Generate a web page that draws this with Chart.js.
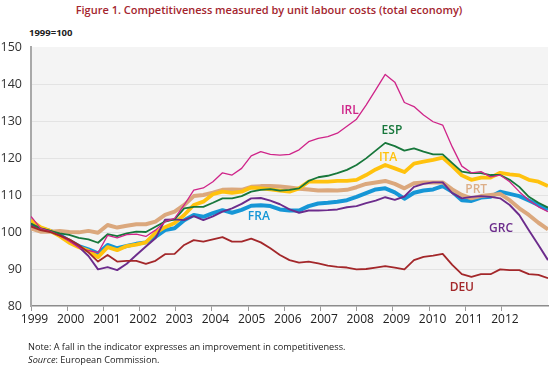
<!DOCTYPE html>
<html>
<head>
<meta charset="utf-8">
<script src="https://cdn.jsdelivr.net/npm/chart.js@4.4.1/dist/chart.umd.min.js"></script>
<style>
  html, body { margin: 0; padding: 0; background: #fff; }
  #wrap { position: relative; width: 550px; height: 377px; font-family: "Open Sans", sans-serif; overflow: hidden; }
  #chart { position: absolute; left: 0; top: 0; }
  .title { position: absolute; left: 0; width: 538px; top: 3px; text-align: center; font-size: 11px; font-weight: 600; color: #a4252e; line-height: 14px; }
  .unit { position: absolute; left: 29px; top: 27px; font-size: 9.5px; font-weight: 700; color: #222; line-height: 12px; }
  .note { position: absolute; left: 28px; top: 340px; font-size: 9.2px; color: #222; line-height: 13px; }
</style>
</head>
<body>
<div id="wrap">
  <div class="title">Figure 1. Competitiveness measured by unit labour costs (total economy)</div>
  <div class="unit">1999=100</div>
  <canvas id="chart" width="550" height="377"></canvas>
  <div class="note">Note: A fall in the indicator expresses an improvement in competitiveness.<br><i>Source</i>: European Commission.</div>
</div>
<script>
/* quarterly data, 1999Q1 .. 2012Q3 */
const quarters = [];
for (let y = 1999; y <= 2012; y++) for (let q = 1; q <= 4; q++) quarters.push(y + 'Q' + q);
quarters.length = 55;

const yearLabels = ['1999', '2000', '2001', '2002', '2003', '2004', '2005',
    '2006', '2007', '2008', '2009', '2010', '2011', '2012'];
const yTicks = [80, 90, 100, 110, 120, 130, 140, 150];

const deu = [101.5, 100.5, 100, 99, 98, 96.5, 94.5, 92, 93.8, 92, 92.2, 92.2, 91.4, 92.2, 94,
    94.1, 96.5, 97.8, 97.4, 98, 98.6, 97.4, 97.4, 98.2, 97.2, 95.6, 93.8, 92.4, 91.7, 92,
    91.5, 90.9, 90.6, 90.4, 89.9, 90, 90.4, 90.8, 90.4, 89.9, 92.4, 93.3, 93.6, 94.1, 91.1,
    88.6, 87.9, 88.6, 88.6, 89.9, 89.7, 89.7, 88.6, 88.4, 87.5];
const irl = [104.2, 101, 100.2, 99, 97.5, 95.8, 95, 94.4, 99.1, 98.4, 99.3, 99.4, 98.8, 100.5, 102.8,
    103.7, 107.3, 111.3, 111.9, 113.6, 116, 115.4, 117.2, 120.6, 121.7, 121, 120.8, 121, 122.2, 124.4,
    125.3, 125.8, 126.7, 128.6, 130.5, 134.3, 138.4, 142.6, 140.5, 135, 133.9, 131.6, 129.8, 128.9, 123,
    117.8, 116, 116.3, 114.9, 115.4, 113.6, 110.9, 108.6, 106.8, 105.5];
const esp = [102.3, 101, 100.3, 99.6, 99.2, 98.4, 98, 97.1, 99.4, 98.9, 99.6, 100.1, 100, 101.4, 102.8,
    103.4, 106.4, 106.8, 106.8, 107.9, 109.1, 109.1, 109.7, 110.9, 111.4, 111.6, 111.2, 111.4, 111.8, 113.8,
    114.8, 115.2, 115.9, 116.8, 118.1, 119.9, 122, 124.1, 123.2, 122, 122.6, 121.7, 121, 121, 118.6,
    116.3, 115.9, 115.9, 115.4, 115.4, 114.1, 112.2, 109.5, 107.9, 106.6];
const grc = [102, 101, 100.3, 99.3, 97.8, 96, 93.5, 89.9, 90.5, 89.7, 91.4, 93.8, 96.1, 98.3, 103.3,
    103.4, 103.2, 104.3, 103.2, 104.2, 105.5, 106.4, 107.6, 109.1, 109.2, 108.5, 107.5, 106.1, 105.2, 105.8,
    105.8, 105.9, 106.1, 106.7, 107, 107.8, 108.5, 109.4, 108.7, 109.6, 112.2, 113, 113.4, 113.4, 110.5,
    109.1, 109.5, 109.7, 109.5, 109.1, 107.3, 104.6, 100.5, 96.5, 92.4];
const ita = [103.2, 101.3, 100.3, 98.9, 97.1, 95.9, 94.9, 93.2, 95.9, 95.1, 96.2, 96.6, 97.2, 99.8, 101.3,
    102.4, 104.6, 107.3, 108.2, 110.2, 110.9, 110.6, 110.9, 112, 111.8, 111.5, 111.2, 110.9, 111.8, 113.6,
    113.6, 113.6, 113.8, 113.8, 114.1, 115.4, 116.9, 118.1, 117.2, 116.2, 118.5, 119, 119.5, 120.1, 117.8,
    115.3, 114.1, 114.7, 114.7, 116, 115.6, 115.3, 114.1, 113.6, 112.4];
const prt = [101, 100.1, 100.1, 100.3, 100, 99.9, 100.3, 99.8, 101.9, 101.2, 101.7, 102.1, 102.1, 102.8, 104.6,
    105.5, 107.3, 109.7, 110, 110.6, 111.4, 111.5, 111.4, 112.2, 112.4, 112.4, 112.3, 112, 111.7, 111.5,
    111.2, 111.3, 111.2, 111.4, 112.1, 113, 113.4, 113.8, 113, 111.8, 113.2, 113.4, 113.4, 113.4, 111.5,
    110, 109.1, 109.7, 110, 110.3, 108.6, 106.4, 104.6, 102.5, 100.7];
const fra = [102.3, 101, 100.3, 99.2, 97.6, 96.2, 95.3, 94.2, 96.5, 95.6, 96.2, 96.8, 97.2, 98.7, 100.5,
    101, 103.2, 104.6, 104.1, 105.1, 105.9, 105.2, 106, 107.1, 107.2, 107, 106.1, 105.8, 105.8, 107,
    107.7, 107.9, 108.2, 108.6, 109.5, 110.5, 111.5, 111.8, 110.7, 109, 110.6, 111.2, 111.5, 112.4, 110.9,
    108.6, 108.4, 109.3, 109.5, 110.9, 110.3, 109.7, 108.5, 107.3, 106];

// year marks in the original sit a little closer than 4 quarters apart
const YEAR_STEP = 3.78;

const FONT = '"Open Sans", sans-serif';

const series = [
    { name: 'DEU', data: deu, color: '#a3272a', width: 1.8, lx: 45, ly: 84.9 },
    { name: 'IRL', data: irl, color: '#cf2489', width: 1.3, lx: 33.3, ly: 132.7 },
    { name: 'ESP', data: esp, color: '#17773b', width: 1.8, lx: 37.7, ly: 127.3 },
    { name: 'GRC', data: grc, color: '#6c2c8c', width: 1.9, lx: 49.1, ly: 100.8 },
    { name: 'ITA', data: ita, color: '#ffc20e', width: 3.8, lx: 37.3, ly: 120 },
    { name: 'PRT', data: prt, color: '#dba87d', width: 4, lx: 46.5, ly: 111.6, text: '#dcae88' },
    { name: 'FRA', data: fra, color: '#1696d6', width: 4, lx: 23.8, ly: 104.3 },
];

const plotBg = {
    id: 'plotBg',
    beforeDraw(chart) {
        const { ctx, chartArea: a } = chart;
        ctx.save();
        ctx.fillStyle = '#f4f4f4';
        ctx.fillRect(a.left, a.top, a.right - a.left, a.bottom - a.top);
        ctx.restore();
    },
};

const seriesLabels = {
    id: 'seriesLabels',
    afterDatasetsDraw(chart) {
        const { ctx, scales: { x, y } } = chart;
        ctx.save();
        ctx.font = '600 12px ' + FONT;
        ctx.textAlign = 'center';
        ctx.textBaseline = 'middle';
        series.forEach(s => {
            ctx.fillStyle = s.text || s.color;
            ctx.fillText(s.name, x.getPixelForValue(s.lx), y.getPixelForValue(s.ly));
        });
        ctx.restore();
    },
};

new Chart(document.getElementById('chart'), {
    type: 'line',
    data: {
        datasets: series.map(s => ({
            label: s.name,
            data: s.data.map((v, i) => ({ x: i, y: v })),
            borderColor: s.color,
            borderWidth: s.width,
            pointRadius: 0,
            tension: 0,
            fill: false,
            borderJoinStyle: 'round',
        })),
    },
    options: {
        responsive: false,
        animation: false,
        layout: { padding: { top: 47, right: 2, bottom: 41, left: 0 } },
        plugins: { legend: { display: false }, tooltip: { enabled: false } },
        scales: {
            x: {
                type: 'linear',
                min: 0,
                max: quarters.length - 1,
                afterFit: s => { s.height = 30; },
                afterBuildTicks: s => { s.ticks = yearLabels.map((_, k) => ({ value: k * YEAR_STEP })); },
                grid: { drawOnChartArea: false, drawTicks: true, tickLength: 5, color: '#9a9a9a' },
                border: { display: true, color: '#8c8c8c', width: 1.5 },
                ticks: {
                    autoSkip: false, maxRotation: 0, labelOffset: 3.5, padding: 1,
                    color: '#222', font: { family: FONT, size: 12 },
                    callback: (v, i) => yearLabels[i],
                },
            },
            y: {
                min: 80,
                max: 150,
                afterFit: s => { s.width = 31; },
                afterBuildTicks: s => { s.ticks = yTicks.map(v => ({ value: v })); },
                grid: {
                    drawTicks: false,
                    color: c => (c.tick && c.tick.value > 80 && c.tick.value < 150) ? '#e3e3e3' : 'rgba(0,0,0,0)',
                },
                border: { display: true, color: '#a9a9a9', width: 2 },
                ticks: { padding: 9, color: '#333', font: { family: FONT, size: 12.5 } },
            },
        },
    },
    plugins: [plotBg, seriesLabels],
});
</script>
</body>
</html>
